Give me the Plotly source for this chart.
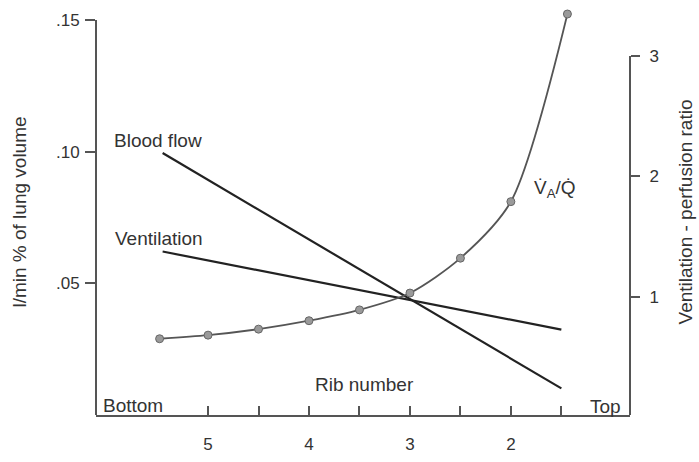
import plotly.graph_objects as go

# --- data ---
rib_lines = [5.45, 1.5]
blood_flow = [0.0995, 0.0101]
ventilation = [0.0621, 0.0324]

rib_vq = [5.48, 5.0, 4.5, 4.0, 3.5, 3.0, 2.5, 2.0, 1.44]
vq_ratio = [0.65, 0.68, 0.73, 0.80, 0.89, 1.03, 1.32, 1.79, 3.35]

x_tickvals = [5, 4.5, 4, 3.5, 3, 2.5, 2, 1.5]
x_ticktext = ["5", "", "4", "", "3", "", "2", ""]
left_tickvals = [0.05, 0.10, 0.15]
left_ticktext = [".05", ".10", ".15"]
right_tickvals = [1, 2, 3]
right_ticktext = ["1", "2", "3"]

INK = "#333333"
AX = "#555555"
FONT = "Liberation Sans, Arial, sans-serif"

y_range = [0, 0.1546]
y2_range = [0.016, 3.40]

fig = go.Figure()

fig.add_trace(go.Scatter(x=rib_lines, y=blood_flow, mode="lines",
                         line=dict(color="#222222", width=2.2), showlegend=False))
fig.add_trace(go.Scatter(x=rib_lines, y=ventilation, mode="lines",
                         line=dict(color="#222222", width=2.2), showlegend=False))
fig.add_trace(go.Scatter(x=rib_vq, y=vq_ratio, yaxis="y2", mode="lines+markers",
                         line=dict(color="#555555", width=1.8, shape="spline", smoothing=0.8),
                         marker=dict(size=8, color="#9a9a9a", line=dict(color="#666666", width=1)),
                         cliponaxis=False, showlegend=False))

# axis lines: left only up to .15, right only up to 3 (as in the reference)
fig.add_shape(type="line", xref="paper", x0=0, x1=0, yref="y", y0=0, y1=left_tickvals[-1],
              line=dict(color=AX, width=2))
fig.add_shape(type="line", xref="paper", x0=1, x1=1, yref="y2", y0=y2_range[0], y1=right_tickvals[-1],
              line=dict(color=AX, width=2))

ann_font = dict(family=FONT, size=19, color=INK)
annots = [
    dict(text="Blood flow", x=5.50, y=0.1057),
    dict(text="Ventilation", x=5.49, y=0.0687),
    dict(text="Rib number", x=3.455, y=0.013),
    dict(text="Bottom", x=5.74, y=0.0053),
    dict(text="Top", x=1.06, y=0.0049),
    dict(text="V\u0307<sub>A</sub>/Q\u0307", x=1.56, y=0.0874),
]
for a in annots:
    fig.add_annotation(x=a["x"], y=a["y"], xref="x", yref="y", text=a["text"],
                       showarrow=False, font=ann_font, xanchor="center", yanchor="middle",
                       yshift=-4)

fig.add_annotation(text="l/min % of lung volume", xref="paper", yref="paper",
                   x=-0.144, y=0.4976, textangle=-90, showarrow=False,
                   font=dict(family=FONT, size=19, color=INK), xanchor="center", yanchor="middle")
fig.add_annotation(text="Ventilation - perfusion ratio", xref="paper", yref="paper",
                   x=1.103, y=0.4976, textangle=-90, showarrow=False,
                   font=dict(family=FONT, size=19, color=INK), xanchor="center", yanchor="middle")

tick_font = dict(family=FONT, size=17, color=INK)

fig.update_layout(
    width=699, height=462,
    margin=dict(l=96, r=69, t=8, b=32),
    paper_bgcolor="white", plot_bgcolor="white",
    xaxis=dict(range=[6.11, 0.82], showgrid=False, zeroline=False,
               showline=True, linecolor=AX, linewidth=2,
               tickmode="array", tickvals=x_tickvals, ticktext=x_ticktext,
               ticks="inside", ticklen=9, tickwidth=1.5, tickcolor=AX,
               tickfont=tick_font, ticklabelstandoff=13),
    yaxis=dict(range=y_range, showgrid=False, zeroline=False, showline=False,
               tickmode="array", tickvals=left_tickvals, ticktext=left_ticktext,
               ticks="outside", ticklen=10, tickwidth=1.5, tickcolor=AX,
               tickfont=tick_font, ticklabelstandoff=2),
    yaxis2=dict(range=y2_range, overlaying="y", side="right", showgrid=False,
                zeroline=False, showline=False,
                tickmode="array", tickvals=right_tickvals, ticktext=right_ticktext,
                ticks="outside", ticklen=9, tickwidth=1.5, tickcolor=AX,
                tickfont=tick_font, ticklabelstandoff=6),
)

fig.write_html("out.html")
